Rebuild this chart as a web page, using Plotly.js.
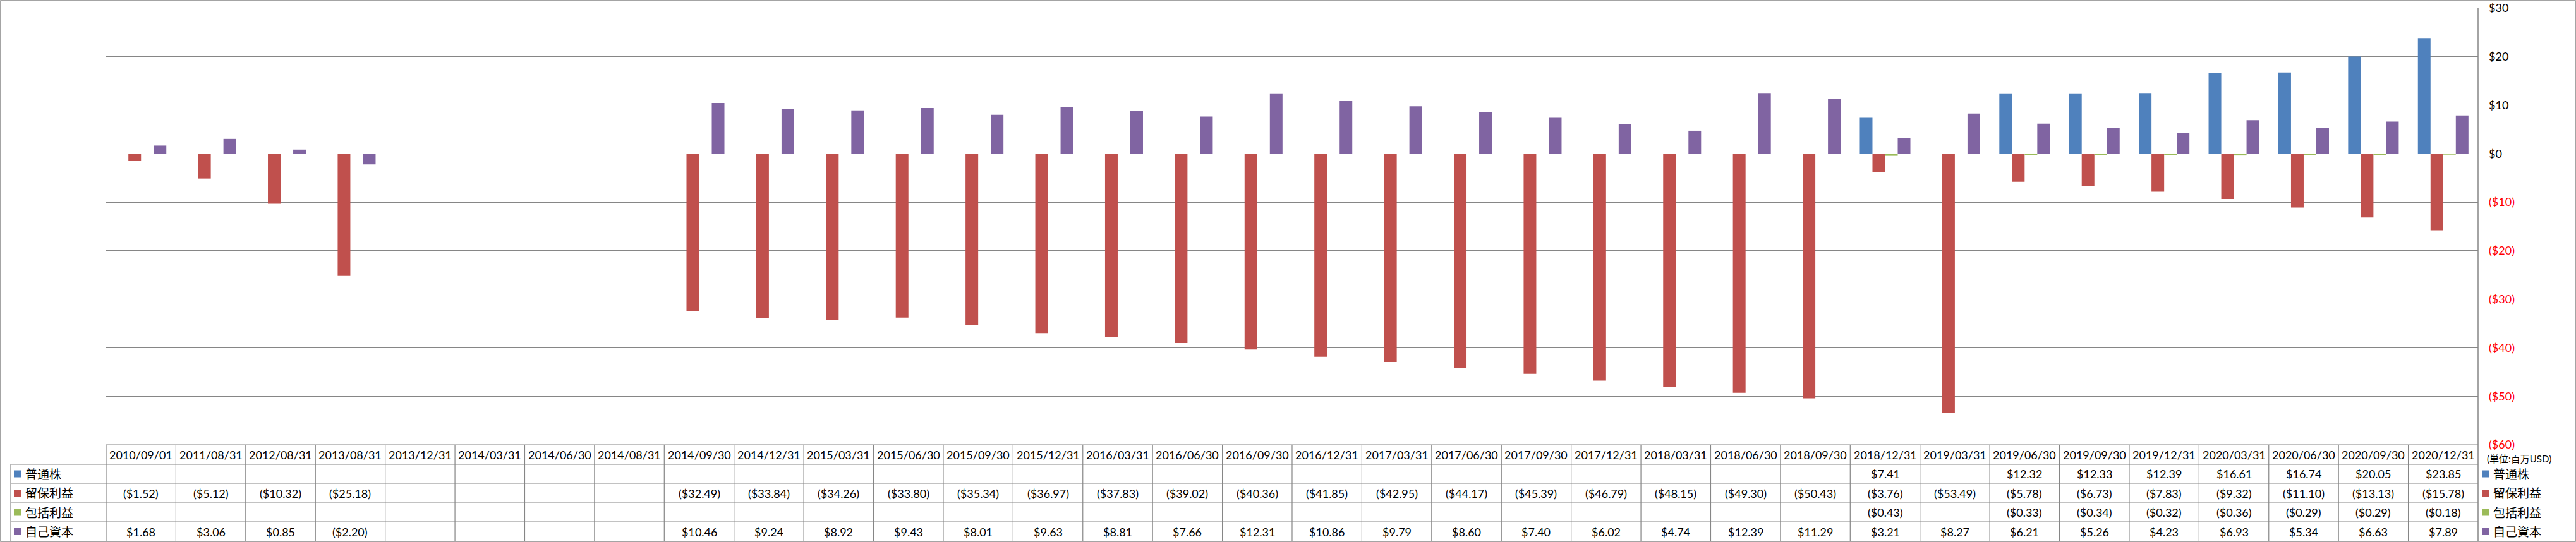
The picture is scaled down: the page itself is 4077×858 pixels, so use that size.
<!DOCTYPE html>
<html>
<head>
<meta charset="utf-8">
<script src="https://cdn.plot.ly/plotly-3.0.1.min.js"></script>
<style>
  html, body { margin: 0; padding: 0; background: #ffffff; }
  #plot { width: 4077px; height: 858px; }
</style>
</head>
<body>
<div id="plot"></div>
<script>
// 決算期
const periods = [
    '2010/09/01', '2011/08/31', '2012/08/31', '2013/08/31', '2013/12/31', '2014/03/31',
    '2014/06/30', '2014/08/31', '2014/09/30', '2014/12/31', '2015/03/31', '2015/06/30',
    '2015/09/30', '2015/12/31', '2016/03/31', '2016/06/30', '2016/09/30', '2016/12/31',
    '2017/03/31', '2017/06/30', '2017/09/30', '2017/12/31', '2018/03/31', '2018/06/30',
    '2018/09/30', '2018/12/31', '2019/03/31', '2019/06/30', '2019/09/30', '2019/12/31',
    '2020/03/31', '2020/06/30', '2020/09/30', '2020/12/31'
];

const seriesNames = ['普通株', '留保利益', '包括利益', '自己資本'];

// 単位: 百万USD
const commonStock = [
    null, null, null, null, null, null, null, null, null, null, null, null,
    null, null, null, null, null, null, null, null, null, null, null, null,
    null, 7.41, null, 12.32, 12.33, 12.39, 16.61, 16.74, 20.05, 23.85
];
const retainedEarnings = [
    -1.52, -5.12, -10.32, -25.18, null, null, null, null, -32.49, -33.84, -34.26, -33.80,
    -35.34, -36.97, -37.83, -39.02, -40.36, -41.85, -42.95, -44.17, -45.39, -46.79, -48.15, -49.30,
    -50.43, -3.76, -53.49, -5.78, -6.73, -7.83, -9.32, -11.10, -13.13, -15.78
];
const comprehensiveIncome = [
    null, null, null, null, null, null, null, null, null, null, null, null,
    null, null, null, null, null, null, null, null, null, null, null, null,
    null, -0.43, null, -0.33, -0.34, -0.32, -0.36, -0.29, -0.29, -0.18
];
const equity = [
    1.68, 3.06, 0.85, -2.20, null, null, null, null, 10.46, 9.24, 8.92, 9.43,
    8.01, 9.63, 8.81, 7.66, 12.31, 10.86, 9.79, 8.60, 7.40, 6.02, 4.74, 12.39,
    11.29, 3.21, 8.27, 6.21, 5.26, 4.23, 6.93, 5.34, 6.63, 7.89
];

const yTicks = [-60, -50, -40, -30, -20, -10, 0, 10, 20, 30];
const unitLabel = '(単位:百万USD)';

const colors = ['#4F81BD', '#C0504D', '#9BBB59', '#8064A2'];
const lineGray = '#868686';
const FONT = 'Lato, "Noto Sans CJK JP", sans-serif';

// プロット領域 (px)
const W = 4077, H = 858;
const PL = 168, PR = 3922, PT = 13, PB = 704;
// 表の行境界 (px)
const rowLines = [704, 735, 765, 796, 826, 857];

function px(x) { return (x - PL) / (PR - PL); }
function py(y) { return (PB - y) / (PB - PT); }

function money(v) {
    if (v === null || v === undefined) return '';
    const s = '$' + Math.abs(v).toFixed(2);
    return v < 0 ? '(' + s + ')' : s;
}

function tickText(v) {
    if (v < 0) return '<span style="color:#FF0000">($' + Math.abs(v) + ')</span>';
    return '$' + v;
}

function initPlot() {
    const allSeries = [commonStock, retainedEarnings, comprehensiveIncome, equity];

    const traces = allSeries.map(function (vals, i) {
        return {
            type: 'bar',
            name: seriesNames[i],
            x: periods,
            y: vals,
            marker: { color: colors[i], line: { width: 0 } },
            hoverinfo: 'x+y+name'
        };
    });

    const shapes = [];
    const annotations = [];

    // 外枠
    shapes.push({
        type: 'rect', xref: 'paper', yref: 'paper',
        x0: px(1), x1: px(W - 1), y0: py(1), y1: py(H - 1),
        line: { color: lineGray, width: 1.5 }, layer: 'below'
    });

    // 右の縦線 (軸線から表の下まで)
    shapes.push({
        type: 'line', xref: 'paper', yref: 'paper',
        x0: 1, x1: 1, y0: 1, y1: py(H - 1),
        line: { color: lineGray, width: 1.5 }
    });

    // 表の縦線
    for (let i = 0; i < periods.length; i++) {
        shapes.push({
            type: 'line', xref: 'x', yref: 'paper',
            x0: i - 0.5, x1: i - 0.5, y0: py(rowLines[0]), y1: py(H - 1),
            line: { color: lineGray, width: 1.2 }
        });
    }
    // 系列名の列の左線
    shapes.push({
        type: 'line', xref: 'paper', yref: 'paper',
        x0: px(17), x1: px(17), y0: py(rowLines[1]), y1: py(H - 1),
        line: { color: lineGray, width: 1.2 }
    });

    // 表の横線
    shapes.push({
        type: 'line', xref: 'paper', yref: 'paper',
        x0: 0, x1: 1, y0: 0, y1: 0,
        line: { color: lineGray, width: 1.2 }
    });
    for (let r = 1; r < rowLines.length - 1; r++) {
        shapes.push({
            type: 'line', xref: 'paper', yref: 'paper',
            x0: px(17), x1: 1, y0: py(rowLines[r]), y1: py(rowLines[r]),
            line: { color: lineGray, width: 1.2 }
        });
    }

    // 見出し行 (日付)
    periods.forEach(function (p) {
        annotations.push({
            xref: 'x', yref: 'paper', x: p, y: py((rowLines[0] + rowLines[1]) / 2),
            text: p, showarrow: false, xanchor: 'center', yanchor: 'middle',
            font: { family: FONT, size: 18, color: '#000000' }
        });
    });

    // 値の行
    allSeries.forEach(function (vals, s) {
        const yc = py((rowLines[s + 1] + rowLines[s + 2]) / 2);
        vals.forEach(function (v, i) {
            if (v === null) return;
            annotations.push({
                xref: 'x', yref: 'paper', x: periods[i], y: yc,
                text: money(v), showarrow: false, xanchor: 'center', yanchor: 'middle',
                font: { family: FONT, size: 18, color: '#000000' }
            });
        });

        // 左の凡例キー
        shapes.push({
            type: 'rect', xref: 'paper', yref: 'paper',
            x0: px(22), x1: px(33), y0: yc - 5.5 / (PB - PT), y1: yc + 5.5 / (PB - PT),
            fillcolor: colors[s], line: { width: 0 }
        });
        annotations.push({
            xref: 'paper', yref: 'paper', x: px(38), y: yc,
            text: seriesNames[s], showarrow: false, xanchor: 'left', yanchor: 'middle',
            font: { family: FONT, size: 19, color: '#000000' }
        });

        // 右の凡例
        shapes.push({
            type: 'rect', xref: 'paper', yref: 'paper',
            x0: px(3928), x1: px(3939), y0: yc - 5.5 / (PB - PT), y1: yc + 5.5 / (PB - PT),
            fillcolor: colors[s], line: { width: 0 }
        });
        annotations.push({
            xref: 'paper', yref: 'paper', x: px(3944), y: yc,
            text: seriesNames[s], showarrow: false, xanchor: 'left', yanchor: 'middle',
            font: { family: FONT, size: 19, color: '#000000' }
        });
    });

    // 単位
    annotations.push({
        xref: 'paper', yref: 'paper', x: px(3934), y: py(726),
        text: unitLabel, showarrow: false, xanchor: 'left', yanchor: 'middle',
        font: { family: FONT, size: 15, color: '#000000' }
    });

    const layout = {
        width: W,
        height: H,
        margin: { l: PL, r: W - PR, t: PT, b: H - PB, pad: 0 },
        paper_bgcolor: '#ffffff',
        plot_bgcolor: '#ffffff',
        barmode: 'group',
        bargap: 0.275,
        bargroupgap: 0,
        showlegend: false,
        font: { family: FONT, size: 18, color: '#000000' },
        xaxis: {
            type: 'category',
            showticklabels: false,
            ticks: '',
            showgrid: false,
            showline: false,
            zeroline: false,
            range: [-0.5, periods.length - 0.5]
        },
        yaxis: {
            side: 'right',
            range: [-60, 30],
            tickmode: 'array',
            tickvals: yTicks,
            ticktext: yTicks.map(tickText),
            ticks: '',
            ticklabelstandoff: 16,
            showgrid: true,
            gridcolor: lineGray,
            gridwidth: 1.2,
            zeroline: true,
            zerolinecolor: lineGray,
            zerolinewidth: 1.2,
            showline: false,
            tickfont: { family: FONT, size: 18, color: '#000000' }
        },
        shapes: shapes,
        annotations: annotations
    };

    const config = {
        responsive: false,
        displayModeBar: false,
        staticPlot: true
    };

    Plotly.newPlot('plot', traces, layout, config);
}

document.addEventListener('DOMContentLoaded', initPlot);
</script>
</body>
</html>
